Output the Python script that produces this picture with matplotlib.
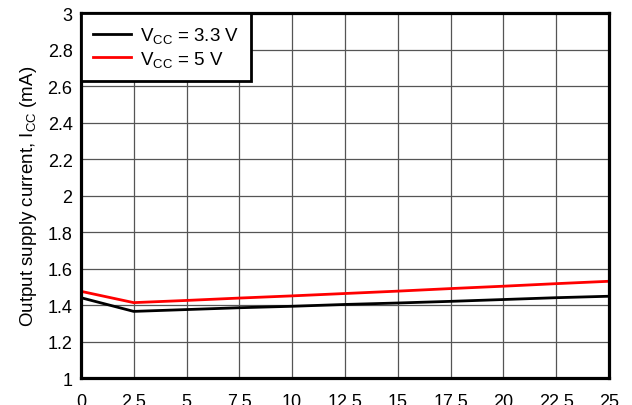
import numpy as np
import matplotlib
matplotlib.use("Agg")
import matplotlib.pyplot as plt

plt.rcParams['font.family'] = ['Liberation Sans', 'DejaVu Sans']
plt.rcParams['mathtext.fontset'] = 'custom'
plt.rcParams['mathtext.rm'] = 'Liberation Sans'
plt.rcParams['mathtext.it'] = 'Liberation Sans'

# temperature / x values
x = [0, 2.5, 5, 7.5, 10, 12.5, 15, 17.5, 20, 22.5, 25]
icc_33 = [1.44, 1.365, 1.375, 1.385, 1.393, 1.403, 1.411, 1.42, 1.43, 1.44, 1.448]
icc_5 = [1.475, 1.413, 1.425, 1.438, 1.45, 1.463, 1.476, 1.49, 1.503, 1.517, 1.53]

xticks = [0, 2.5, 5, 7.5, 10, 12.5, 15, 17.5, 20, 22.5, 25]
xticklabels = ['0', '2.5', '5', '7.5', '10', '12.5', '15', '17.5', '20', '22.5', '25']
yticks = [1, 1.2, 1.4, 1.6, 1.8, 2, 2.2, 2.4, 2.6, 2.8, 3]
yticklabels = ['1', '1.2', '1.4', '1.6', '1.8', '2', '2.2', '2.4', '2.6', '2.8', '3']

fig = plt.figure(figsize=(6.32, 4.06), dpi=100)
ax = fig.add_axes([0.128, 0.0665, 0.8356, 0.899])

ax.plot(x, icc_33, color='black', lw=2, label=r'V$_{\mathrm{CC}}$ = 3.3 V')
ax.plot(x, icc_5, color='#ff0000', lw=2, label=r'V$_{\mathrm{CC}}$ = 5 V')

ax.set_xlim(0, 25)
ax.set_ylim(1, 3)
ax.set_xticks(xticks)
ax.set_xticklabels(xticklabels)
ax.set_yticks(yticks)
ax.set_yticklabels(yticklabels)
ax.tick_params(length=0, labelsize=13)
ax.tick_params(axis='x', pad=11)
ax.tick_params(axis='y', pad=6)
ax.grid(True, color='#555555', lw=0.9)
for s in ax.spines.values():
    s.set_linewidth(2.3)
ax.set_ylabel(r'Output supply current, I$_{\mathrm{CC}}$ (mA)', fontsize=13.5, labelpad=6)

leg = ax.legend(loc='upper left', borderaxespad=0, fancybox=False, fontsize=13.5,
                handlelength=2.0, borderpad=0.65, labelspacing=0.2, handletextpad=0.5)
leg.get_frame().set_edgecolor('black')
leg.get_frame().set_linewidth(2)
leg.get_frame().set_alpha(1)

fig.savefig('out.png', dpi=100)
